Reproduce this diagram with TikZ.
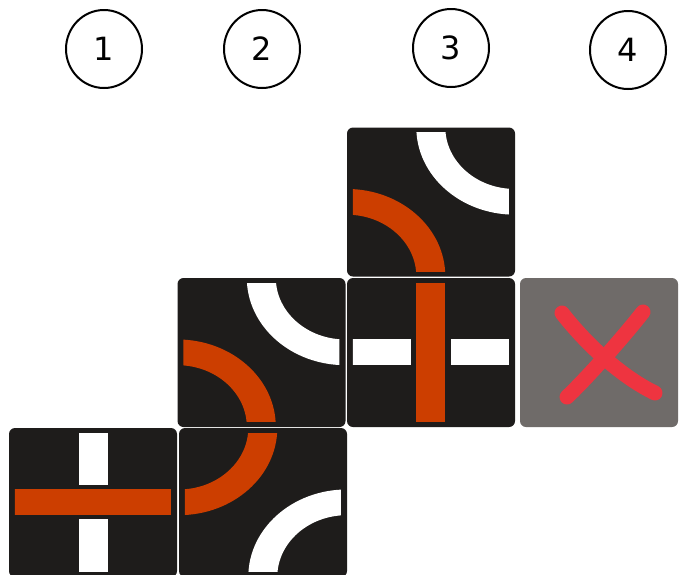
\documentclass[tikz,border=0pt]{standalone}
\usepackage{fontspec}
\setmainfont{DejaVu Sans}
\usetikzlibrary{shapes.geometric}
\definecolor{tileblack}{RGB}{30,28,27}
\definecolor{trackorange}{RGB}{204,62,0}
\definecolor{blockgrey}{RGB}{111,107,105}
\definecolor{crossred}{RGB}{238,52,64}
\newcommand{\trackring}[3]{\fill[#1,even odd rule] (#2,#3) circle[radius=98.5] circle[radius=69.5];}

\begin{document}
\begin{tikzpicture}[
    x=1pt, y=-1pt,
    num/.style={ellipse,draw,line width=2pt,minimum width=76pt,minimum height=78pt,
      inner sep=0pt,font=\fontsize{32}{36}\selectfont},
    tilebox/.style={rectangle,rounded corners=6pt,fill=tileblack,
      minimum width=168pt,minimum height=149pt,inner sep=0pt},
    greybox/.style={tilebox,fill=blockgrey,minimum width=158pt},
    tilearea/.style={shift={(#1.north west)},yscale=0.887},
    xmark/.style={draw=crossred,line width=15pt,line cap=round}
  ]
    \useasboundingbox (0,0) rectangle (679,574);
    \clip (0,0) rectangle (679,574);

    \node[num] (n1) at (104,49) {1};
    \node[num] (n2) at (262,49) {2};
    \node[num] (n3) at (451,48) {3};
    \node[num] (n4) at (628,50) {4};

    \node[tilebox] (cross)    at (93,502.5) {};
    \node[tilebox] (bendlow)  at (263,502.5) {};
    \node[tilebox] (bendmid)  at (261.5,352.5) {};
    \node[tilebox] (bendtop)  at (431,202) {};
    \node[tilebox] (tee)      at (431,352.5) {};
    \node[greybox] (blocked)  at (599,352.5) {};

    \begin{scope}[tilearea=cross]
      \clip (6,6) rectangle (162,162);
      \fill[white] (70,0) rectangle (99,168);
      \fill[tileblack] (0,65) rectangle (168,103);
      \fill[trackorange] (0,69.5) rectangle (168,98.5);
    \end{scope}
    \begin{scope}[tilearea=bendlow]
      \clip (6,6) rectangle (162,162);
      \trackring{trackorange}{0}{0}
      \trackring{white}{168}{168}
    \end{scope}
    \begin{scope}[tilearea=bendmid]
      \clip (6,6) rectangle (162,162);
      \trackring{white}{168}{0}
      \trackring{trackorange}{0}{168}
    \end{scope}
    \begin{scope}[tilearea=bendtop]
      \clip (6,6) rectangle (162,162);
      \trackring{white}{168}{0}
      \trackring{trackorange}{0}{168}
    \end{scope}
    \begin{scope}[tilearea=tee]
      \clip (6,6) rectangle (162,162);
      \fill[white] (0,69.5) rectangle (168,98.5);
      \fill[tileblack] (64,0) rectangle (104,168);
      \fill[trackorange] (69.5,0) rectangle (98.5,168);
    \end{scope}

    \draw[xmark] (562,313) .. controls (583,340) and (618,375) .. (655,393);
    \draw[xmark] (643,312) .. controls (625,335) and (590,375) .. (567,397);
  \end{tikzpicture}
\end{document}
